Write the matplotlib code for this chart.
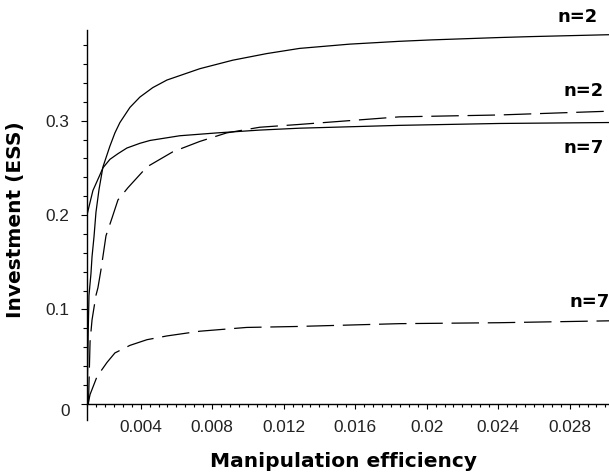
import matplotlib
matplotlib.use("Agg")
import matplotlib.pyplot as plt
from matplotlib.ticker import MultipleLocator
from matplotlib.transforms import ScaledTranslation

# curves
n2_solid_x = [0.00103, 0.00107, 0.00111, 0.00122, 0.00128, 0.00139, 0.0015, 0.00167, 0.00189, 0.00228, 0.00256,
              0.00284, 0.0034, 0.00396, 0.00468, 0.00547, 0.00731, 0.00915, 0.01105, 0.01289, 0.01568, 0.01847,
              0.02026, 0.02405, 0.02584, 0.0302]
n2_solid_y = [0.03, 0.08, 0.115, 0.138, 0.156, 0.177, 0.203, 0.227, 0.251, 0.273, 0.287,
              0.298, 0.314, 0.325, 0.335, 0.343, 0.355, 0.364, 0.371, 0.3765, 0.381, 0.384,
              0.3855, 0.388, 0.389, 0.391]

n7_solid_x = [0.001, 0.00106, 0.00133, 0.00173, 0.00189, 0.00228, 0.00273, 0.00323, 0.00396, 0.00452, 0.00619,
              0.00826, 0.01066, 0.01289, 0.01847, 0.02405, 0.0302]
n7_solid_y = [0.2, 0.205, 0.226, 0.243, 0.25, 0.259, 0.265, 0.271, 0.276, 0.279, 0.284,
              0.287, 0.29, 0.292, 0.295, 0.297, 0.298]

n2_dash_x = [0.00108, 0.00117, 0.00128, 0.00139, 0.0015, 0.00161, 0.00178, 0.00206, 0.0024, 0.00273, 0.00329,
             0.00435, 0.0058, 0.00731, 0.00881, 0.01066, 0.01289, 0.01847, 0.02405, 0.0302]
n2_dash_y = [0.0, 0.066, 0.089, 0.102, 0.115, 0.123, 0.142, 0.178, 0.197, 0.216, 0.229,
             0.251, 0.267, 0.278, 0.287, 0.293, 0.296, 0.304, 0.306, 0.31]

n7_dash_x = [0.00106, 0.00117, 0.00156, 0.00212, 0.00256, 0.0034, 0.00435, 0.00547, 0.00731, 0.00993,
             0.01272, 0.01847, 0.02405, 0.0302]
n7_dash_y = [0.0, 0.01, 0.029, 0.044, 0.054, 0.062, 0.068, 0.072, 0.077, 0.081,
             0.082, 0.085, 0.086, 0.088]

# curve labels: text, x, y
labels = [("n=2", 0.02846, 0.41), ("n=2", 0.0288, 0.331), ("n=7", 0.0288, 0.2715), ("n=7", 0.02913, 0.108)]

xtick_vals = [0.004, 0.008, 0.012, 0.016, 0.02, 0.024, 0.028]
xtick_text = ["0.004", "0.008", "0.012", "0.016", "0.02", "0.024", "0.028"]
ytick_vals = [0, 0.1, 0.2, 0.3]
ytick_text = ["0", "0.1", "0.2", "0.3"]

fig = plt.figure(figsize=(6.09, 4.73), dpi=100)
ax = fig.add_axes([0.1429, 0.1121, 0.8571, 0.8245])

dash = (22, 7)
ax.plot(n2_solid_x, n2_solid_y, color="black", lw=0.9)
ax.plot(n7_solid_x, n7_solid_y, color="black", lw=0.9)
ax.plot(n2_dash_x, n2_dash_y, color="black", lw=0.9, dashes=dash)
ax.plot(n7_dash_x, n7_dash_y, color="black", lw=0.9, dashes=dash)

for txt, x, y in labels:
    ax.text(x, y, txt, ha="center", va="center", fontsize=13, fontweight="bold", clip_on=False)

ax.set_xlim(0.001, 0.0302)
ax.set_ylim(-0.017, 0.396)

ax.spines["top"].set_visible(False)
ax.spines["right"].set_visible(False)
ax.spines["bottom"].set_position(("data", 0))
ax.spines["left"].set_linewidth(1.0)
ax.spines["bottom"].set_linewidth(1.0)

ax.xaxis.set_minor_locator(MultipleLocator(0.0005))
ax.yaxis.set_minor_locator(MultipleLocator(0.02))
ax.set_xticks(xtick_vals)
ax.set_xticklabels(xtick_text, fontfamily="Liberation Sans")
ax.set_yticks(ytick_vals)
ax.set_yticklabels(ytick_text, fontfamily="Liberation Sans")

ax.tick_params(axis="x", which="major", direction="out", length=3.5, width=0.8, pad=8, labelsize=12.4, labelcolor="#222222")
ax.tick_params(axis="x", which="minor", direction="out", length=2, width=0.8)
ax.tick_params(axis="y", which="major", direction="out", length=4.5, width=0.8, pad=8, labelsize=12.4, labelcolor="#222222")
ax.tick_params(axis="y", which="minor", direction="out", length=3, width=0.8)

# the "0" label sits a bit lower than the axis in the original
zero_lab = ax.get_yticklabels()[0]
zero_lab.set_transform(zero_lab.get_transform() + ScaledTranslation(0, -6 / 100, fig.dpi_scale_trans))

fig.text(343.5 / 609, 1 - 467 / 473, "Manipulation efficiency", ha="center", va="baseline",
         fontsize=14.5, fontweight="bold")
fig.text(16 / 609, 1 - 220 / 473, "Investment (ESS)", ha="center", va="center", rotation=90,
         fontsize=14.5, fontweight="bold")

fig.savefig("out.png", dpi=100)
